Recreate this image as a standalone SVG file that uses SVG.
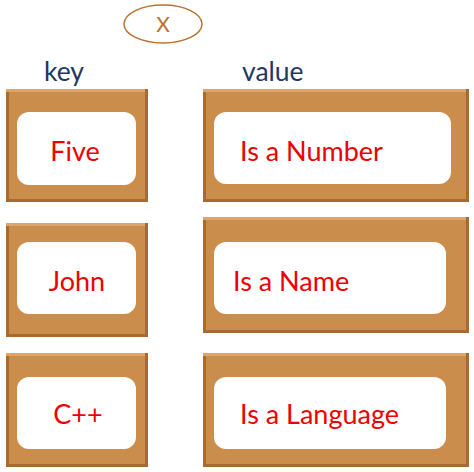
<svg xmlns="http://www.w3.org/2000/svg" width="474" height="472" viewBox="0 0 474 472">
<style>
.edge{fill:#A86A30}
.face{fill:#CB8D4C}
.hi{fill:#DDA56A}
.card{fill:#FFFFFF}
.lbl{font-family:Lato,"Liberation Sans",sans-serif;font-size:27px;fill:#EE0000}
.hdr{font-family:Lato,"Liberation Sans",sans-serif;font-size:26.5px;fill:#1F3864}
</style>
<rect width="474" height="472" fill="#FFFFFF"/>
<g id="x-node">
<ellipse cx="163" cy="24" rx="39" ry="19" fill="none" stroke="#B8722F" stroke-width="1.5"/>
<text x="163" y="32" text-anchor="middle" style="font-family:Lato,'Liberation Sans',sans-serif;font-size:21px;fill:#B8722F">X</text>
</g>
<g id="headers">
<text class="hdr" x="44" y="81">key</text>
<text class="hdr" x="242" y="81">value</text>
</g>
<g id="key-five">
<rect class="edge" x="6" y="89" width="142" height="113"/>
<rect class="hi" x="6" y="89" width="139" height="3"/>
<rect class="face" x="9" y="92" width="136" height="107"/>
<rect class="card" x="17" y="112" width="119" height="73" rx="12"/>
<text class="lbl" x="75" y="161" text-anchor="middle">Five</text>
</g>
<g id="value-number">
<rect class="edge" x="203" y="89" width="266" height="113"/>
<rect class="hi" x="203" y="89" width="263" height="3"/>
<rect class="face" x="206" y="92" width="260" height="107"/>
<rect class="card" x="214" y="112" width="237" height="72" rx="12"/>
<text class="lbl" x="240" y="161">Is a Number</text>
</g>
<g id="key-john">
<rect class="edge" x="6" y="223" width="142" height="114"/>
<rect class="hi" x="6" y="223" width="139" height="3"/>
<rect class="face" x="9" y="226" width="136" height="108"/>
<rect class="card" x="17" y="242" width="119" height="72" rx="12"/>
<text class="lbl" x="77" y="291" text-anchor="middle">John</text>
</g>
<g id="value-name">
<rect class="edge" x="203" y="217" width="266" height="116"/>
<rect class="hi" x="203" y="217" width="263" height="3"/>
<rect class="face" x="206" y="220" width="260" height="110"/>
<rect class="card" x="214" y="242" width="232" height="72" rx="12"/>
<text class="lbl" x="233" y="291">Is a Name</text>
</g>
<g id="key-cpp">
<rect class="edge" x="6" y="353" width="142" height="114"/>
<rect class="hi" x="6" y="353" width="139" height="3"/>
<rect class="face" x="9" y="356" width="136" height="108"/>
<rect class="card" x="17" y="377" width="119" height="72" rx="12"/>
<text class="lbl" x="78" y="424" text-anchor="middle">C++</text>
</g>
<g id="value-language">
<rect class="edge" x="203" y="353" width="266" height="114"/>
<rect class="hi" x="203" y="353" width="263" height="3"/>
<rect class="face" x="206" y="356" width="260" height="108"/>
<rect class="card" x="214" y="377" width="232" height="72" rx="12"/>
<text class="lbl" x="240" y="424">Is a Language</text>
</g>
<g id="connectors"/>
</svg>
